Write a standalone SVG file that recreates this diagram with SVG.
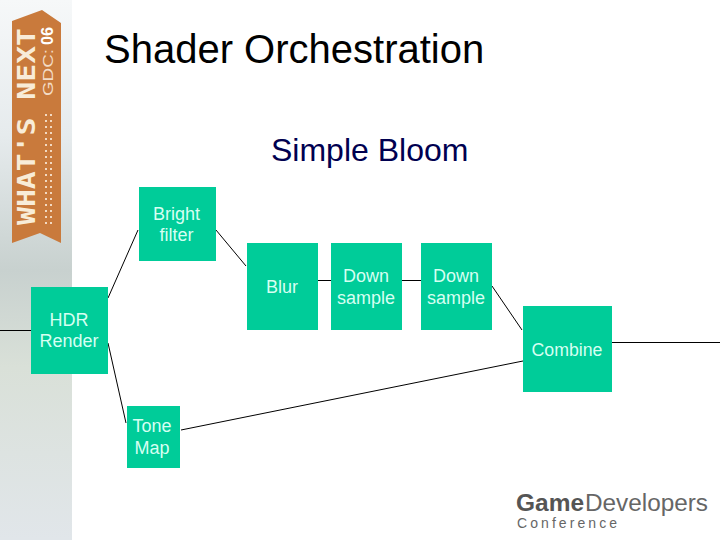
<svg xmlns="http://www.w3.org/2000/svg" width="720" height="540" viewBox="0 0 720 540">
<style>
.box{fill:#00cc99}
.lbl{font-family:"Liberation Sans",Arial,sans-serif;font-size:18px;fill:#d6fff2;text-anchor:middle}
.conn{stroke:#000;stroke-width:1;fill:none}
.title{font-family:"Liberation Sans",Arial,sans-serif}
</style>
<defs>
<linearGradient id="side" x1="0" y1="0" x2="0" y2="1">
<stop offset="0" stop-color="#f6f8f9"/><stop offset="0.25" stop-color="#e6ebed"/><stop offset="0.5" stop-color="#c8d1cf"/><stop offset="0.68" stop-color="#d9e0d8"/><stop offset="1" stop-color="#e1e6ea"/>
</linearGradient>
<pattern id="dots" width="5" height="12" patternUnits="userSpaceOnUse"><rect x="0" y="0" width="2" height="2" fill="#f2d9c2"/><rect x="0" y="6" width="2" height="2" fill="#f2d9c2"/></pattern>
</defs>
<rect width="720" height="540" fill="#fff"/>
<g id="sidebar">
<rect x="0" y="0" width="72" height="540" fill="url(#side)"/>
<polygon points="12,21 42,10 61,23 61,243 40,233 12,243" fill="#c97a3c"/>
<text transform="translate(35,225) rotate(-90)" font-family="'DejaVu Sans Mono',monospace" font-weight="bold" font-size="24" fill="#f8ecd8" textLength="197" lengthAdjust="spacingAndGlyphs">WHAT'S NEXT</text>
<text transform="translate(53,96) rotate(-90)" font-family="'Liberation Sans',sans-serif" font-size="15" fill="#f3dcc6" textLength="47" lengthAdjust="spacingAndGlyphs">GDC:</text>
<text transform="translate(53,45) rotate(-90)" font-family="'Liberation Sans',sans-serif" font-weight="bold" font-size="16" fill="#fff" textLength="18" lengthAdjust="spacingAndGlyphs">06</text>
<rect x="45" y="110" width="7" height="115" fill="url(#dots)"/>
</g>
<text class="title" x="104" y="63" font-size="40" fill="#000">Shader Orchestration</text>
<text class="title" x="271" y="161" font-size="32" fill="#000050">Simple Bloom</text>
<g id="connectors" class="conn">
<line x1="0" y1="330.500" x2="31" y2="330.500"/>
<line x1="108" y1="298" x2="138" y2="230"/>
<line x1="108" y1="343" x2="126" y2="423"/>
<line x1="216" y1="230" x2="246" y2="266"/>
<line x1="318" y1="280.500" x2="331" y2="280.500"/>
<line x1="402" y1="280.500" x2="421" y2="280.500"/>
<line x1="492" y1="286" x2="522" y2="330"/>
<line x1="181" y1="430" x2="523" y2="361"/>
<line x1="612" y1="342.500" x2="720" y2="342.500"/>
</g>
<g id="bright-filter"><rect class="box" x="139" y="187" width="77" height="74"/><text class="lbl" x="176.500" y="220">Bright</text><text class="lbl" x="176.500" y="241">filter</text></g>
<g id="hdr-render"><rect class="box" x="31" y="287" width="77" height="87"/><text class="lbl" x="69" y="326">HDR</text><text class="lbl" x="69" y="347">Render</text></g>
<g id="tone-map"><rect class="box" x="127" y="406" width="53" height="62"/><text class="lbl" x="152" y="432">Tone</text><text class="lbl" x="152" y="454">Map</text></g>
<g id="blur"><rect class="box" x="247" y="243" width="71" height="87"/><text class="lbl" x="282" y="293">Blur</text></g>
<g id="down-sample-1"><rect class="box" x="331" y="243" width="71" height="87"/><text class="lbl" x="366" y="282">Down</text><text class="lbl" x="366" y="304">sample</text></g>
<g id="down-sample-2"><rect class="box" x="421" y="243" width="71" height="87"/><text class="lbl" x="456" y="282">Down</text><text class="lbl" x="456" y="304">sample</text></g>
<g id="combine"><rect class="box" x="523" y="306" width="89" height="86"/><text class="lbl" x="567" y="356" textLength="71" lengthAdjust="spacingAndGlyphs">Combine</text></g>
<g id="logo" font-family="'Liberation Sans',sans-serif" fill="#555">
<text x="516" y="511" font-size="23" font-weight="bold" textLength="68" lengthAdjust="spacingAndGlyphs">Game</text>
<text x="585" y="511" font-size="23" fill="#666" textLength="123" lengthAdjust="spacingAndGlyphs">Developers</text>
<text x="517" y="528" font-size="14" fill="#666" textLength="100" lengthAdjust="spacing">Conference</text>
</g>
</svg>
